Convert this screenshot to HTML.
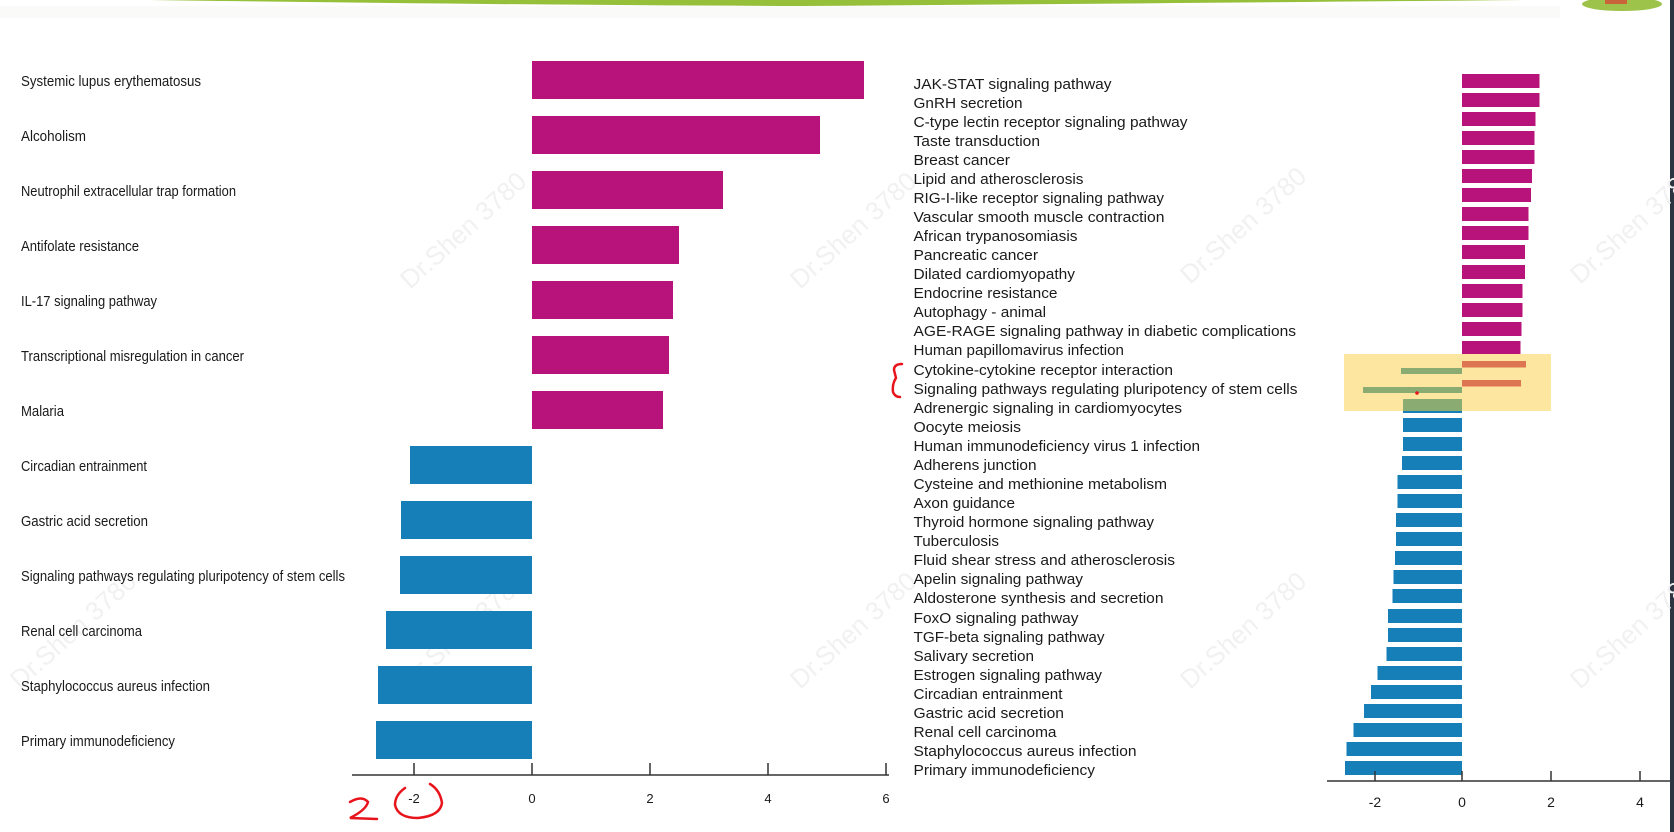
<!DOCTYPE html>
<html><head><meta charset="utf-8"><style>
html,body{margin:0;padding:0;background:#fff;}
svg{display:block;}
text{font-family:"Liberation Sans",Arial,sans-serif;fill:#1a1a1a;}
</style></head><body>
<svg width="1674" height="832" viewBox="0 0 1674 832" xmlns="http://www.w3.org/2000/svg">
<rect width="1674" height="832" fill="#fff"/>
<!-- top decoration -->
<path d="M150 0 L1530 0 Q1200 3 800 6 Q500 5 150 0 Z" fill="#96bf3a"/>
<rect x="0" y="6" width="1560" height="12" fill="#f6f7f3" opacity="0.6"/>
<ellipse cx="1622" cy="4" rx="40" ry="7" fill="#9dc34a"/>
<rect x="1605" y="0" width="22" height="4" fill="#c9643a"/>
<rect x="1670" y="0" width="4" height="832" fill="#2b3440"/>
<!-- watermarks -->
<g font-size="26" font-family="Liberation Sans, sans-serif">
<text transform="translate(410,290) rotate(-42)" style="fill:#f1f1f1">Dr.Shen 3780</text>
<text transform="translate(800,290) rotate(-42)" style="fill:#f1f1f1">Dr.Shen 3780</text>
<text transform="translate(1190,285) rotate(-42)" style="fill:#f1f1f1">Dr.Shen 3780</text>
<text transform="translate(1580,285) rotate(-42)" style="fill:#f1f1f1">Dr.Shen 3780</text>
<text transform="translate(20,690) rotate(-42)" style="fill:#f1f1f1">Dr.Shen 3780</text>
<text transform="translate(410,690) rotate(-42)" style="fill:#f1f1f1">Dr.Shen 3780</text>
<text transform="translate(800,690) rotate(-42)" style="fill:#f1f1f1">Dr.Shen 3780</text>
<text transform="translate(1190,690) rotate(-42)" style="fill:#f1f1f1">Dr.Shen 3780</text>
<text transform="translate(1580,690) rotate(-42)" style="fill:#f1f1f1">Dr.Shen 3780</text>
</g>

<!-- LEFT CHART -->
<g fill="#b8137a">
<rect x="532" y="61" width="332" height="38"/>
<rect x="532" y="116" width="288" height="38"/>
<rect x="532" y="171" width="191" height="38"/>
<rect x="532" y="226" width="147" height="38"/>
<rect x="532" y="281" width="141" height="38"/>
<rect x="532" y="336" width="137" height="38"/>
<rect x="532" y="391" width="131" height="38"/>
</g>
<g fill="#167fb8">
<rect x="410" y="446" width="122" height="38"/>
<rect x="401" y="501" width="131" height="38"/>
<rect x="400" y="556" width="132" height="38"/>
<rect x="386" y="611" width="146" height="38"/>
<rect x="378" y="666" width="154" height="38"/>
<rect x="376" y="721" width="156" height="38"/>
</g>
<g font-size="14.5">
<text x="21" y="86" textLength="180" lengthAdjust="spacingAndGlyphs">Systemic lupus erythematosus</text>
<text x="21" y="141" textLength="65" lengthAdjust="spacingAndGlyphs">Alcoholism</text>
<text x="21" y="196" textLength="215" lengthAdjust="spacingAndGlyphs">Neutrophil extracellular trap formation</text>
<text x="21" y="251" textLength="118" lengthAdjust="spacingAndGlyphs">Antifolate resistance</text>
<text x="21" y="306" textLength="136" lengthAdjust="spacingAndGlyphs">IL-17 signaling pathway</text>
<text x="21" y="361" textLength="223" lengthAdjust="spacingAndGlyphs">Transcriptional misregulation in cancer</text>
<text x="21" y="416" textLength="43" lengthAdjust="spacingAndGlyphs">Malaria</text>
<text x="21" y="471" textLength="126" lengthAdjust="spacingAndGlyphs">Circadian entrainment</text>
<text x="21" y="526" textLength="127" lengthAdjust="spacingAndGlyphs">Gastric acid secretion</text>
<text x="21" y="581" textLength="324" lengthAdjust="spacingAndGlyphs">Signaling pathways regulating pluripotency of stem cells</text>
<text x="21" y="636" textLength="121" lengthAdjust="spacingAndGlyphs">Renal cell carcinoma</text>
<text x="21" y="691" textLength="189" lengthAdjust="spacingAndGlyphs">Staphylococcus aureus infection</text>
<text x="21" y="746" textLength="154" lengthAdjust="spacingAndGlyphs">Primary immunodeficiency</text>
</g>
<g stroke="#333" stroke-width="1.5">
<line x1="352" y1="775" x2="889" y2="775"/>
<line x1="414" y1="763" x2="414" y2="775"/>
<line x1="532" y1="763" x2="532" y2="775"/>
<line x1="650" y1="763" x2="650" y2="775"/>
<line x1="768" y1="763" x2="768" y2="775"/>
<line x1="886" y1="763" x2="886" y2="775"/>
</g>
<g font-size="13" text-anchor="middle">
<text x="414" y="803">-2</text>
<text x="532" y="803">0</text>
<text x="650" y="803">2</text>
<text x="768" y="803">4</text>
<text x="886" y="803">6</text>
</g>
<!-- red annotations -->
<g fill="none" stroke="#e8141c" stroke-width="2.5" stroke-linecap="round">
<path d="M350 802 Q362 795 368 802 Q366 810 350 818 L377 819"/>
<path d="M405 788 Q395 795 395 805 Q398 818 418 818 Q440 816 442 803 Q440 790 430 784"/>
<path d="M902 364 Q894 364 894 370 L896 378 Q892 384 893 392 Q895 397 900 397"/>
</g>

<!-- RIGHT CHART -->
<rect x="1344" y="354" width="207" height="57" fill="#fde7a0"/>
<g fill="#b8137a">
<rect x="1462" y="74" width="77.5" height="14"/>
<rect x="1462" y="93" width="77.5" height="14"/>
<rect x="1462" y="112" width="73.5" height="14"/>
<rect x="1462" y="131" width="72.5" height="14"/>
<rect x="1462" y="150" width="72.5" height="14"/>
<rect x="1462" y="169" width="70" height="14"/>
<rect x="1462" y="188" width="69" height="14"/>
<rect x="1462" y="207" width="66.5" height="14"/>
<rect x="1462" y="226" width="66.5" height="14"/>
<rect x="1462" y="245" width="63" height="14"/>
<rect x="1462" y="265" width="63" height="14"/>
<rect x="1462" y="284" width="60.5" height="14"/>
<rect x="1462" y="303" width="60.5" height="14"/>
<rect x="1462" y="322" width="59.5" height="14"/>
<rect x="1462" y="341" width="58.5" height="13"/>
</g>
<rect x="1462" y="361" width="64" height="6.5" fill="#dd7452"/>
<rect x="1401" y="368" width="61" height="6" fill="#8aab72"/>
<rect x="1462" y="380" width="59" height="6.5" fill="#dd7452"/>
<rect x="1363" y="387" width="99" height="6" fill="#8aab72"/>
<circle cx="1417" cy="393" r="1.8" fill="#e8141c"/>
<rect x="1403" y="399" width="59" height="12" fill="#8aab72"/>
<rect x="1403" y="411" width="59" height="2" fill="#167fb8"/>
<g fill="#167fb8">
<rect x="1403" y="418" width="59" height="14"/>
<rect x="1403" y="437" width="59" height="14"/>
<rect x="1402" y="456" width="60" height="14"/>
<rect x="1397.5" y="475" width="64.5" height="14"/>
<rect x="1397.5" y="494" width="64.5" height="14"/>
<rect x="1396" y="513" width="66" height="14"/>
<rect x="1396" y="532" width="66" height="14"/>
<rect x="1395" y="551" width="67" height="14"/>
<rect x="1393.5" y="570" width="68.5" height="14"/>
<rect x="1392.5" y="589" width="69.5" height="14"/>
<rect x="1388" y="609" width="74" height="14"/>
<rect x="1388" y="628" width="74" height="14"/>
<rect x="1386.5" y="647" width="75.5" height="14"/>
<rect x="1377.5" y="666" width="84.5" height="14"/>
<rect x="1371" y="685" width="91" height="14"/>
<rect x="1364" y="704" width="98" height="14"/>
<rect x="1353.5" y="723" width="108.5" height="14"/>
<rect x="1346.5" y="742" width="115.5" height="14"/>
<rect x="1345" y="761" width="117" height="14"/>
</g>
<g font-size="14.5">
<text x="913.5" y="89" textLength="198" lengthAdjust="spacingAndGlyphs">JAK-STAT signaling pathway</text>
<text x="913.5" y="108" textLength="109" lengthAdjust="spacingAndGlyphs">GnRH secretion</text>
<text x="913.5" y="127" textLength="274" lengthAdjust="spacingAndGlyphs">C-type lectin receptor signaling pathway</text>
<text x="913.5" y="146" textLength="126.5" lengthAdjust="spacingAndGlyphs">Taste transduction</text>
<text x="913.5" y="165" textLength="96.5" lengthAdjust="spacingAndGlyphs">Breast cancer</text>
<text x="913.5" y="184" textLength="170" lengthAdjust="spacingAndGlyphs">Lipid and atherosclerosis</text>
<text x="913.5" y="203" textLength="250.5" lengthAdjust="spacingAndGlyphs">RIG-I-like receptor signaling pathway</text>
<text x="913.5" y="222" textLength="251" lengthAdjust="spacingAndGlyphs">Vascular smooth muscle contraction</text>
<text x="913.5" y="241" textLength="164" lengthAdjust="spacingAndGlyphs">African trypanosomiasis</text>
<text x="913.5" y="260" textLength="124.5" lengthAdjust="spacingAndGlyphs">Pancreatic cancer</text>
<text x="913.5" y="279" textLength="161.5" lengthAdjust="spacingAndGlyphs">Dilated cardiomyopathy</text>
<text x="913.5" y="298" textLength="144" lengthAdjust="spacingAndGlyphs">Endocrine resistance</text>
<text x="913.5" y="317" textLength="132.5" lengthAdjust="spacingAndGlyphs">Autophagy - animal</text>
<text x="913.5" y="336" textLength="382.5" lengthAdjust="spacingAndGlyphs">AGE-RAGE signaling pathway in diabetic complications</text>
<text x="913.5" y="355" textLength="210.5" lengthAdjust="spacingAndGlyphs">Human papillomavirus infection</text>
<text x="913.5" y="375" textLength="259.5" lengthAdjust="spacingAndGlyphs">Cytokine-cytokine receptor interaction</text>
<text x="913.5" y="394" textLength="384" lengthAdjust="spacingAndGlyphs">Signaling pathways regulating pluripotency of stem cells</text>
<text x="913.5" y="413" textLength="268.5" lengthAdjust="spacingAndGlyphs">Adrenergic signaling in cardiomyocytes</text>
<text x="913.5" y="432" textLength="107.5" lengthAdjust="spacingAndGlyphs">Oocyte meiosis</text>
<text x="913.5" y="451" textLength="286.5" lengthAdjust="spacingAndGlyphs">Human immunodeficiency virus 1 infection</text>
<text x="913.5" y="470" textLength="123" lengthAdjust="spacingAndGlyphs">Adherens junction</text>
<text x="913.5" y="489" textLength="253.5" lengthAdjust="spacingAndGlyphs">Cysteine and methionine metabolism</text>
<text x="913.5" y="508" textLength="101.5" lengthAdjust="spacingAndGlyphs">Axon guidance</text>
<text x="913.5" y="527" textLength="240.5" lengthAdjust="spacingAndGlyphs">Thyroid hormone signaling pathway</text>
<text x="913.5" y="546" textLength="85.5" lengthAdjust="spacingAndGlyphs">Tuberculosis</text>
<text x="913.5" y="565" textLength="261.5" lengthAdjust="spacingAndGlyphs">Fluid shear stress and atherosclerosis</text>
<text x="913.5" y="584" textLength="169.5" lengthAdjust="spacingAndGlyphs">Apelin signaling pathway</text>
<text x="913.5" y="603" textLength="250" lengthAdjust="spacingAndGlyphs">Aldosterone synthesis and secretion</text>
<text x="913.5" y="623" textLength="165" lengthAdjust="spacingAndGlyphs">FoxO signaling pathway</text>
<text x="913.5" y="642" textLength="191" lengthAdjust="spacingAndGlyphs">TGF-beta signaling pathway</text>
<text x="913.5" y="661" textLength="120.5" lengthAdjust="spacingAndGlyphs">Salivary secretion</text>
<text x="913.5" y="680" textLength="188.5" lengthAdjust="spacingAndGlyphs">Estrogen signaling pathway</text>
<text x="913.5" y="699" textLength="149" lengthAdjust="spacingAndGlyphs">Circadian entrainment</text>
<text x="913.5" y="718" textLength="150.5" lengthAdjust="spacingAndGlyphs">Gastric acid secretion</text>
<text x="913.5" y="737" textLength="143" lengthAdjust="spacingAndGlyphs">Renal cell carcinoma</text>
<text x="913.5" y="756" textLength="223" lengthAdjust="spacingAndGlyphs">Staphylococcus aureus infection</text>
<text x="913.5" y="775" textLength="181.5" lengthAdjust="spacingAndGlyphs">Primary immunodeficiency</text>
</g>
<g stroke="#333" stroke-width="1.5">
<line x1="1327" y1="781" x2="1670" y2="781"/>
<line x1="1375" y1="771" x2="1375" y2="781"/>
<line x1="1462" y1="771" x2="1462" y2="781"/>
<line x1="1551" y1="771" x2="1551" y2="781"/>
<line x1="1640" y1="771" x2="1640" y2="781"/>
</g>
<g font-size="14" text-anchor="middle">
<text x="1375" y="807">-2</text>
<text x="1462" y="807">0</text>
<text x="1551" y="807">2</text>
<text x="1640" y="807">4</text>
</g>
</svg>
</body></html>
